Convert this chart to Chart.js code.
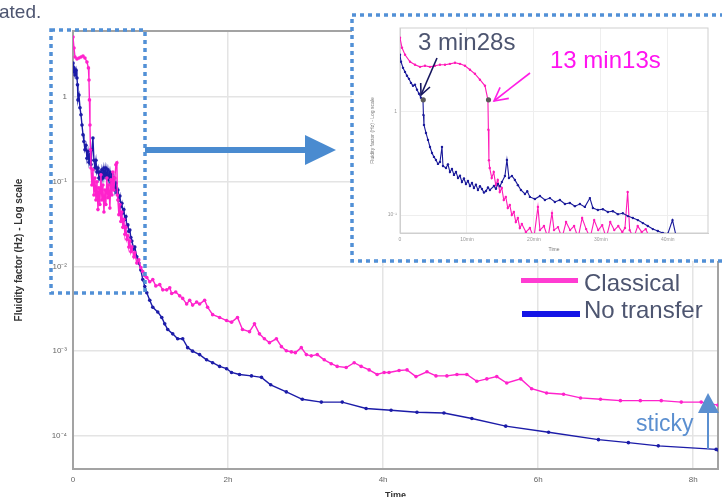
<!DOCTYPE html>
<html>
<head>
<meta charset="utf-8">
<script src="https://cdn.jsdelivr.net/npm/chart.js@4.4.0/dist/chart.umd.min.js"></script>
<style>
  html, body { margin: 0; padding: 0; background: #fff; width: 722px; height: 497px; overflow: hidden; }
  #page { position: relative; width: 722px; height: 497px; overflow: hidden; font-family: 'Liberation Sans', Arial, sans-serif; }
  #mainWrap { position: absolute; left: 0; top: 0; width: 722px; height: 503px; }
  #insetBox { position: absolute; left: 352px; top: 15px; width: 370px; height: 246px; background: #fff; }
  #insetWrap { position: absolute; left: 356px; top: 18px; width: 360px; height: 240px; }
  #overlay { position: absolute; left: 0; top: 0; }
  .txt { position: absolute; white-space: nowrap; line-height: 1; }
  .swatch { position: absolute; }
</style>
</head>
<body>
<div id="page">
  <div id="mainWrap"><canvas id="mainChart"></canvas></div>
  <div id="insetBox"></div>
  <div id="insetWrap"><canvas id="insetChart"></canvas></div>
  <svg id="overlay" width="722" height="497">
    <g fill="none" stroke="#5290d6" stroke-width="3.5" stroke-dasharray="4 4">
      <rect x="51" y="30" width="94" height="263"/>
      <path d="M724 15 H352 V261 H724"/>
    </g>
    <rect x="145" y="147" width="161" height="6" fill="#4a8bd0"/>
    <polygon points="305,135 336,150 305,165" fill="#4a8bd0"/>
    <g fill="none" stroke="#15155e" stroke-width="1.6">
      <line x1="437" y1="58" x2="421" y2="95"/>
      <polyline points="430,87 421,95 420.7,83"/>
    </g>
    <g fill="none" stroke="#ff1ee6" stroke-width="1.6">
      <line x1="530" y1="73" x2="494" y2="101"/>
      <polyline points="508.8,98.4 494,101 500.1,87.3"/>
    </g>
    <line x1="708" y1="449" x2="708" y2="410" stroke="#5b8fd0" stroke-width="2"/>
    <polygon points="698,413 708,393 719,413" fill="#5b8fd0"/>
  </svg>
  <div class="txt" style="left:-1px;top:2px;font-size:19px;color:#4d5570;">ated.</div>
  <div class="txt" id="call0" style="left:418px;top:30px;font-size:24px;color:#4d5570;"></div>
  <div class="txt" id="call1" style="left:550px;top:48px;font-size:24px;color:#ff14f0;"></div>
  <div class="txt" style="left:636px;top:412px;font-size:23px;color:#5b8fd0;">sticky</div>
  <div id="legend"></div>
</div>
<script>
// main chart: time in hours, fluidity factor in Hz (log)
const seriesNames = ['Classical', 'No transfer'];
const xTickValues = [0, 2, 4, 6, 8];
const xTickLabels = ['0', '2h', '4h', '6h', '8h'];
const yTickValues = [1e-4, 1e-3, 1e-2, 1e-1, 1];
const yTickLabels = ['10⁻⁴', '10⁻³', '10⁻²', '10⁻¹', '1'];

const classical = [
  [0, 5.15], [0.013, 3.82], [0.026, 2.99], [0.051, 2.83], [0.077, 2.91], [0.103, 2.99], [0.129, 3.07],
  [0.154, 2.91], [0.180, 2.61], [0.199, 2.22], [0.206, 1.60], [0.212, 0.93], [0.219, 0.47], [0.225, 0.239],
  [0.232, 0.146], [0.244, 0.092], [0.257, 0.139], [0.270, 0.070], [0.283, 0.111], [0.296, 0.061],
  [0.309, 0.100], [0.322, 0.047], [0.334, 0.085], [0.347, 0.054], [0.360, 0.121], [0.373, 0.061],
  [0.386, 0.092], [0.399, 0.044], [0.412, 0.080], [0.424, 0.054], [0.437, 0.111], [0.450, 0.065],
  [0.463, 0.092], [0.476, 0.049], [0.489, 0.106], [0.502, 0.070], [0.514, 0.131], [0.527, 0.080],
  [0.540, 0.111], [0.553, 0.159], [0.566, 0.168], [0.572, 0.070], [0.579, 0.061], [0.592, 0.041],
  [0.605, 0.054], [0.617, 0.034], [0.630, 0.044], [0.643, 0.029], [0.656, 0.036], [0.669, 0.024],
  [0.682, 0.029], [0.695, 0.021], [0.707, 0.023], [0.720, 0.017], [0.733, 0.020], [0.746, 0.015],
  [0.759, 0.017], [0.785, 0.013], [0.797, 0.0145], [0.823, 0.011], [0.849, 0.012], [0.875, 0.0097],
  [0.900, 0.0087], [0.926, 0.0078], [0.952, 0.0074], [0.990, 0.0066], [1.029, 0.0070], [1.068, 0.0059],
  [1.119, 0.0061], [1.158, 0.0053], [1.209, 0.0053], [1.248, 0.0056], [1.273, 0.0048], [1.325, 0.0050],
  [1.376, 0.0045], [1.415, 0.0042], [1.466, 0.0036], [1.505, 0.0040], [1.543, 0.0035], [1.595, 0.0038],
  [1.633, 0.0036], [1.698, 0.0040], [1.736, 0.0033], [1.801, 0.0027], [1.891, 0.0025], [1.981, 0.0023],
  [2.045, 0.0022], [2.122, 0.0025], [2.186, 0.0018], [2.277, 0.0017], [2.341, 0.0021], [2.405, 0.0016],
  [2.469, 0.0014], [2.534, 0.00126], [2.624, 0.0014], [2.688, 0.00113], [2.752, 0.00101], [2.817, 0.00098],
  [2.868, 0.00096], [2.945, 0.0011], [3.010, 0.00091], [3.074, 0.00088], [3.151, 0.00091], [3.241, 0.00079],
  [3.331, 0.00071], [3.408, 0.00066], [3.524, 0.00064], [3.627, 0.00073], [3.717, 0.00066], [3.820, 0.00060],
  [3.923, 0.00053], [4.013, 0.00056], [4.077, 0.00056], [4.206, 0.00059], [4.309, 0.00060], [4.424, 0.00050],
  [4.566, 0.00057], [4.682, 0.00051], [4.823, 0.00051], [4.952, 0.00053], [5.080, 0.00053], [5.209, 0.00044],
  [5.338, 0.00047], [5.466, 0.00050], [5.595, 0.00042], [5.775, 0.00047], [5.916, 0.00036], [6.109, 0.00032],
  [6.328, 0.00031], [6.547, 0.00028], [6.804, 0.00027], [7.061, 0.00026], [7.318, 0.00026], [7.588, 0.00026],
  [7.846, 0.00025], [8.103, 0.00025], [8.322, 0.00023]
];

const noTransfer = [
  [0, 2.54], [0.006, 1.99], [0.013, 2.22], [0.026, 1.83], [0.039, 2.10], [0.051, 1.69], [0.058, 1.40],
  [0.064, 0.93], [0.077, 1.06], [0.090, 0.75], [0.103, 0.62], [0.116, 0.47], [0.129, 0.36], [0.141, 0.30],
  [0.154, 0.24], [0.167, 0.27], [0.180, 0.19], [0.193, 0.23], [0.206, 0.17], [0.219, 0.21], [0.232, 0.16],
  [0.244, 0.24], [0.257, 0.33], [0.270, 0.18], [0.283, 0.146], [0.296, 0.18], [0.309, 0.131], [0.322, 0.146],
  [0.334, 0.111], [0.347, 0.131], [0.360, 0.106], [0.373, 0.139], [0.386, 0.111], [0.399, 0.146],
  [0.412, 0.118], [0.424, 0.146], [0.437, 0.111], [0.450, 0.139], [0.463, 0.106], [0.476, 0.131],
  [0.489, 0.097], [0.502, 0.124], [0.514, 0.092], [0.527, 0.111], [0.540, 0.080], [0.553, 0.097],
  [0.566, 0.074], [0.579, 0.080], [0.592, 0.061], [0.605, 0.068], [0.617, 0.051], [0.630, 0.056],
  [0.643, 0.043], [0.656, 0.047], [0.669, 0.036], [0.682, 0.039], [0.695, 0.030], [0.707, 0.031],
  [0.720, 0.026], [0.733, 0.027], [0.746, 0.022], [0.759, 0.020], [0.785, 0.016], [0.797, 0.017],
  [0.823, 0.013], [0.849, 0.011], [0.875, 0.0091], [0.900, 0.0070], [0.926, 0.0058], [0.952, 0.0049],
  [0.990, 0.0040], [1.029, 0.0033], [1.093, 0.0029], [1.145, 0.0025], [1.183, 0.0021], [1.222, 0.0018],
  [1.286, 0.0016], [1.350, 0.0014], [1.415, 0.0014], [1.479, 0.0011], [1.543, 0.0010], [1.633, 0.00091],
  [1.723, 0.00079], [1.801, 0.00073], [1.891, 0.00066], [1.981, 0.00062], [2.045, 0.00056], [2.148, 0.00053],
  [2.302, 0.00051], [2.431, 0.00049], [2.55, 0.00040], [2.752, 0.00033], [2.958, 0.00027], [3.203, 0.00025],
  [3.473, 0.00025], [3.781, 0.00021], [4.103, 0.00020], [4.437, 0.00019], [4.785, 0.000186], [5.145, 0.00016],
  [5.582, 0.00013], [6.135, 0.00011], [6.778, 0.00009], [7.164, 0.000083], [7.550, 0.000076],
  [8.296, 0.000069], [8.322, 0.000068]
];

// inset: first minutes, time in minutes
const insetXTickValues = [0, 10, 20, 30, 40];
const insetXTickLabels = ['0', '10min', '20min', '30min', '40min'];
const insetYTickValues = [0.1, 1];
const insetYTickLabels = ['10⁻¹', '1'];

const insetClassical = [
  [0, 5.23], [0.3, 4.18], [0.75, 3.58], [1.5, 3.06], [2.24, 2.86], [2.99, 2.73], [3.73, 2.80], [4.48, 2.73],
  [5.22, 2.80], [5.97, 2.86], [6.72, 2.86], [7.46, 2.92], [8.21, 2.99], [8.96, 2.92], [9.7, 2.80],
  [10.45, 2.56], [11.19, 2.34], [11.94, 2.05], [12.69, 1.79], [13.13, 1.31], [13.2, 0.67], [13.28, 0.34],
  [13.4, 0.286], [13.7, 0.229], [14.0, 0.261], [14.3, 0.195], [14.6, 0.219], [14.9, 0.167], [15.2, 0.183],
  [15.5, 0.140], [15.8, 0.150], [16.1, 0.117], [16.4, 0.125], [16.7, 0.100], [17.0, 0.107], [17.3, 0.0855],
  [17.6, 0.0935], [17.9, 0.0748], [18.2, 0.0818], [18.8, 0.0684], [19.4, 0.0748], [20.0, 0.06], [20.6, 0.12],
  [20.9, 0.0715], [21.5, 0.0782], [22.1, 0.06], [22.7, 0.1045], [23.0, 0.0715], [23.6, 0.0764], [24.2, 0.06],
  [24.8, 0.0855], [25.4, 0.0715], [26.0, 0.0782], [26.6, 0.06], [27.2, 0.0935], [27.8, 0.0731], [28.4, 0.06],
  [29.0, 0.0894], [29.6, 0.0715], [30.2, 0.0799], [30.8, 0.06], [31.4, 0.0855], [32.0, 0.0715], [32.6, 0.0782],
  [33.2, 0.0684], [33.6, 0.0748], [34.0, 0.167], [34.3, 0.0715], [34.9, 0.06], [35.5, 0.0782], [36.1, 0.0684],
  [36.7, 0.0731], [37.3, 0.06]
];

const insetNoTransfer = [
  [0, 3.58], [0.15, 3.06], [0.45, 2.67], [0.75, 2.44], [1.04, 2.24], [1.34, 2.09], [1.64, 1.91], [1.94, 1.79],
  [2.24, 1.83], [2.54, 1.64], [2.84, 1.50], [3.13, 1.37], [3.43, 1.31], [3.5, 0.935], [3.58, 0.748],
  [3.88, 0.625], [4.18, 0.535], [4.48, 0.457], [4.78, 0.400], [5.07, 0.366], [5.37, 0.342], [5.67, 0.313],
  [5.97, 0.327], [6.27, 0.457], [6.42, 0.299], [6.87, 0.286], [7.16, 0.31], [7.46, 0.261], [7.76, 0.28],
  [8.06, 0.245], [8.36, 0.262], [8.66, 0.229], [8.96, 0.24], [9.25, 0.209], [9.55, 0.226], [9.85, 0.200],
  [10.15, 0.214], [10.45, 0.191], [10.75, 0.205], [11.04, 0.183], [11.34, 0.197], [11.64, 0.175],
  [11.94, 0.19], [12.24, 0.179], [12.54, 0.165], [12.84, 0.171], [13.14, 0.185], [13.43, 0.175],
  [14.03, 0.191], [14.33, 0.18], [14.63, 0.200], [14.93, 0.19], [15.22, 0.209], [15.67, 0.239],
  [15.97, 0.342], [16.27, 0.229], [16.72, 0.239], [17.16, 0.219], [17.61, 0.195], [18.06, 0.175],
  [18.66, 0.160], [19.0, 0.17], [19.40, 0.150], [20.15, 0.143], [20.9, 0.153], [21.64, 0.140], [22.39, 0.146],
  [23.13, 0.134], [23.88, 0.140], [24.63, 0.128], [25.37, 0.131], [26.12, 0.122], [26.87, 0.128],
  [27.61, 0.120], [28.36, 0.146], [28.81, 0.117], [29.55, 0.112], [30.3, 0.114], [31.04, 0.107],
  [31.79, 0.109], [32.54, 0.102], [33.28, 0.104], [34.03, 0.0977], [34.78, 0.0935], [35.52, 0.0894],
  [36.27, 0.0836], [37.01, 0.0782], [37.76, 0.0731], [38.51, 0.0700], [39.25, 0.067], [40.0, 0.066],
  [40.7, 0.0894], [41.2, 0.064]
];

// the two switching moments marked on the inset
const switchMinutes = [3.47, 13.22];
const switchValues = [1.31, 1.31];
const switchLabels = ['3 min28s', '13 min13s'];

const lineColors = ['#ff22cc', '#1c1ca8'];
const insetColors = ['#ff1ab8', '#1a1a9a'];
const legendColors = ['#ff3cd2', '#1414e6'];

Chart.defaults.font.family = "'Liberation Sans', Arial, sans-serif";

const framePlugin = {
    id: 'frame',
    beforeDatasetsDraw(chart, args, opts) {
        const a = chart.chartArea;
        const ctx = chart.ctx;
        ctx.save();
        ctx.strokeStyle = opts.color;
        ctx.lineWidth = opts.width;
        ctx.strokeRect(a.left, a.top, a.right - a.left, a.bottom - a.top);
        ctx.restore();
    }
};

const toXY = rows => rows.map(([x, y]) => ({ x, y }));
const labelFor = (values, labels) => v => {
    const i = values.findIndex(t => Math.abs(t - v) < 1e-9);
    return i < 0 ? '' : labels[i];
};

function lineSet(label, rows, color, width, radius) {
    return {
        label: label,
        data: toXY(rows),
        borderColor: color,
        backgroundColor: color,
        borderWidth: width,
        pointRadius: radius,
        pointBorderWidth: 0,
        pointBackgroundColor: color,
        tension: 0,
        fill: false,
    };
}

new Chart(document.getElementById('mainChart').getContext('2d'), {
    type: 'line',
    data: {
        datasets: [
            lineSet(seriesNames[0], classical, lineColors[0], 1.4, 1.8),
            lineSet(seriesNames[1], noTransfer, lineColors[1], 1.4, 1.8),
        ],
    },
    options: {
        responsive: true,
        maintainAspectRatio: false,
        animation: false,
        layout: { padding: { left: 10, right: 2, top: 31, bottom: 0 } },
        plugins: {
            legend: { display: false },
            tooltip: { enabled: false },
            frame: { color: '#a3a3a3', width: 2 },
        },
        scales: {
            x: {
                type: 'linear',
                min: 0, max: 8.32,
                afterBuildTicks: s => { s.ticks = xTickValues.map(v => ({ value: v })); },
                afterFit: s => { s.height = 34; },
                ticks: {
                    autoSkip: false, maxRotation: 0, padding: 6,
                    color: '#666', font: { size: 8 },
                    callback: labelFor(xTickValues, xTickLabels),
                },
                grid: { color: '#e4e4e4', lineWidth: 1.5, drawTicks: false },
                border: { color: '#a3a3a3', width: 2 },
                title: {
                    display: true, text: 'Time', color: '#333',
                    font: { size: 9, weight: 'bold' }, padding: { top: 0, bottom: 2.5 },
                },
            },
            y: {
                type: 'logarithmic',
                min: 4.05e-5, max: 6.06,
                afterBuildTicks: s => { s.ticks = yTickValues.map(v => ({ value: v })); },
                afterFit: s => { s.width = 63; },
                ticks: {
                    autoSkip: false, padding: 6,
                    color: '#666', font: { size: 8 },
                    callback: labelFor(yTickValues, yTickLabels),
                },
                grid: { color: '#e4e4e4', lineWidth: 1.5, drawTicks: false },
                border: { color: '#a3a3a3', width: 2 },
                title: {
                    display: true, text: 'Fluidity factor (Hz) - Log scale', color: '#333',
                    font: { size: 10, weight: 'bold' }, padding: { top: 3, bottom: 0 },
                },
            },
        },
    },
    plugins: [framePlugin],
});

const switchSet = {
    label: 'switch',
    data: switchMinutes.map((m, i) => ({ x: m, y: switchValues[i] })),
    showLine: false,
    pointRadius: 2.6,
    pointBorderWidth: 0,
    pointBackgroundColor: '#5a5a5a',
    backgroundColor: '#5a5a5a',
};

new Chart(document.getElementById('insetChart').getContext('2d'), {
    type: 'line',
    data: {
        datasets: [
            switchSet,
            lineSet(seriesNames[1], insetNoTransfer, insetColors[1], 1.1, 1.2),
            lineSet(seriesNames[0], insetClassical, insetColors[0], 1.1, 1.2),
        ],
    },
    options: {
        responsive: true,
        maintainAspectRatio: false,
        animation: false,
        layout: { padding: { left: 12, right: 8, top: 10, bottom: 0 } },
        plugins: {
            legend: { display: false },
            tooltip: { enabled: false },
            frame: { color: '#cfcfcf', width: 1 },
        },
        scales: {
            x: {
                type: 'linear',
                min: 0, max: 46,
                afterBuildTicks: s => { s.ticks = insetXTickValues.map(v => ({ value: v })); },
                afterFit: s => { s.height = 25; },
                ticks: {
                    autoSkip: false, maxRotation: 0, padding: 4,
                    color: '#999', font: { size: 5 },
                    callback: labelFor(insetXTickValues, insetXTickLabels),
                },
                grid: { color: '#eeeeee', lineWidth: 1, drawTicks: false },
                border: { color: '#cfcfcf', width: 1 },
                title: {
                    display: true, text: 'Time', color: '#777',
                    font: { size: 5 }, padding: { top: 0, bottom: 5 },
                },
            },
            y: {
                type: 'logarithmic',
                min: 0.067, max: 6.5,
                afterBuildTicks: s => { s.ticks = insetYTickValues.map(v => ({ value: v })); },
                afterFit: s => { s.width = 32; },
                ticks: {
                    autoSkip: false, padding: 3,
                    color: '#999', font: { size: 5 },
                    callback: labelFor(insetYTickValues, insetYTickLabels),
                },
                grid: { color: '#eeeeee', lineWidth: 1, drawTicks: false },
                border: { color: '#cfcfcf', width: 1 },
                title: {
                    display: true, text: 'Fluidity factor (Hz) - Log scale', color: '#777',
                    font: { size: 5 }, padding: { top: 2, bottom: 0 },
                },
            },
        },
    },
    plugins: [framePlugin],
});

// callout texts and legend
switchLabels.forEach((t, i) => { document.getElementById('call' + i).textContent = t; });

const legendRows = [
    { bar: [521, 278, 57, 5], text: [584, 271] },
    { bar: [522, 311, 58, 6], text: [584, 298] },
];
const legend = document.getElementById('legend');
seriesNames.forEach((name, i) => {
    const r = legendRows[i];
    const bar = document.createElement('div');
    bar.className = 'swatch';
    bar.style.cssText = `left:${r.bar[0]}px;top:${r.bar[1]}px;width:${r.bar[2]}px;height:${r.bar[3]}px;background:${legendColors[i]};`;
    const txt = document.createElement('div');
    txt.className = 'txt';
    txt.style.cssText = `left:${r.text[0]}px;top:${r.text[1]}px;font-size:24px;color:#4d5570;`;
    txt.textContent = name;
    legend.appendChild(bar);
    legend.appendChild(txt);
});
</script>
</body>
</html>
